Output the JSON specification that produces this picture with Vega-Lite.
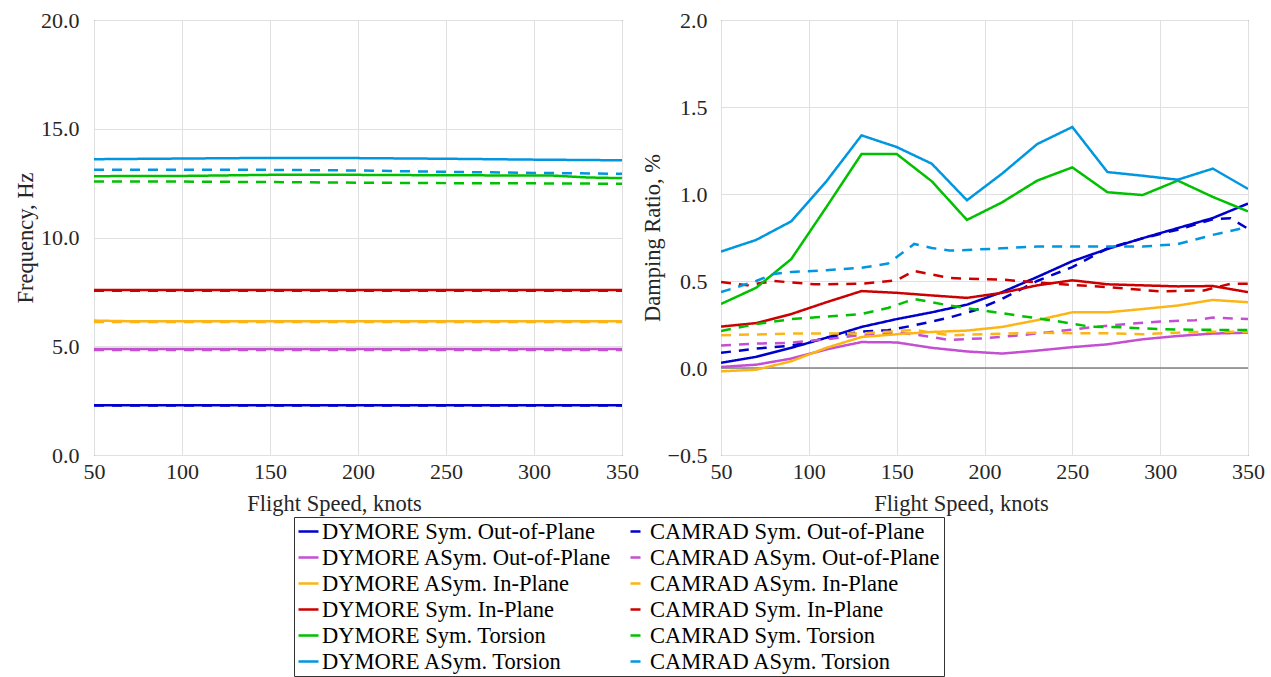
{
  "$schema": "https://vega.github.io/schema/vega-lite/v6.json",
  "padding": {"left": 14, "top": 8, "right": 5, "bottom": 5},
  "background": "white",
  "datasets": {
    "freq": [
      {"series": "DYMORE Sym. Out-of-Plane", "speed": 50, "value": 2.29},
      {"series": "DYMORE Sym. Out-of-Plane", "speed": 200, "value": 2.29},
      {"series": "DYMORE Sym. Out-of-Plane", "speed": 350, "value": 2.29},
      {"series": "CAMRAD Sym. Out-of-Plane", "speed": 50, "value": 2.28},
      {"series": "CAMRAD Sym. Out-of-Plane", "speed": 200, "value": 2.28},
      {"series": "CAMRAD Sym. Out-of-Plane", "speed": 350, "value": 2.28},
      {"series": "DYMORE ASym. Out-of-Plane", "speed": 50, "value": 4.87},
      {"series": "DYMORE ASym. Out-of-Plane", "speed": 200, "value": 4.87},
      {"series": "DYMORE ASym. Out-of-Plane", "speed": 350, "value": 4.87},
      {"series": "CAMRAD ASym. Out-of-Plane", "speed": 50, "value": 4.83},
      {"series": "CAMRAD ASym. Out-of-Plane", "speed": 200, "value": 4.83},
      {"series": "CAMRAD ASym. Out-of-Plane", "speed": 350, "value": 4.83},
      {"series": "DYMORE ASym. In-Plane", "speed": 50, "value": 6.18},
      {"series": "DYMORE ASym. In-Plane", "speed": 70, "value": 6.15},
      {"series": "DYMORE ASym. In-Plane", "speed": 200, "value": 6.15},
      {"series": "DYMORE ASym. In-Plane", "speed": 350, "value": 6.15},
      {"series": "CAMRAD ASym. In-Plane", "speed": 50, "value": 6.11},
      {"series": "CAMRAD ASym. In-Plane", "speed": 200, "value": 6.11},
      {"series": "CAMRAD ASym. In-Plane", "speed": 350, "value": 6.11},
      {"series": "DYMORE Sym. In-Plane", "speed": 50, "value": 7.59},
      {"series": "DYMORE Sym. In-Plane", "speed": 200, "value": 7.59},
      {"series": "DYMORE Sym. In-Plane", "speed": 350, "value": 7.59},
      {"series": "CAMRAD Sym. In-Plane", "speed": 50, "value": 7.55},
      {"series": "CAMRAD Sym. In-Plane", "speed": 200, "value": 7.55},
      {"series": "CAMRAD Sym. In-Plane", "speed": 350, "value": 7.55},
      {"series": "DYMORE Sym. Torsion", "speed": 50, "value": 12.82},
      {"series": "DYMORE Sym. Torsion", "speed": 100, "value": 12.83},
      {"series": "DYMORE Sym. Torsion", "speed": 150, "value": 12.88},
      {"series": "DYMORE Sym. Torsion", "speed": 200, "value": 12.88},
      {"series": "DYMORE Sym. Torsion", "speed": 250, "value": 12.86},
      {"series": "DYMORE Sym. Torsion", "speed": 310, "value": 12.85},
      {"series": "DYMORE Sym. Torsion", "speed": 330, "value": 12.76},
      {"series": "DYMORE Sym. Torsion", "speed": 350, "value": 12.73},
      {"series": "CAMRAD Sym. Torsion", "speed": 50, "value": 12.57},
      {"series": "CAMRAD Sym. Torsion", "speed": 100, "value": 12.57},
      {"series": "CAMRAD Sym. Torsion", "speed": 150, "value": 12.55},
      {"series": "CAMRAD Sym. Torsion", "speed": 200, "value": 12.52},
      {"series": "CAMRAD Sym. Torsion", "speed": 250, "value": 12.5},
      {"series": "CAMRAD Sym. Torsion", "speed": 300, "value": 12.49},
      {"series": "CAMRAD Sym. Torsion", "speed": 350, "value": 12.47},
      {"series": "DYMORE ASym. Torsion", "speed": 50, "value": 13.6},
      {"series": "DYMORE ASym. Torsion", "speed": 100, "value": 13.63},
      {"series": "DYMORE ASym. Torsion", "speed": 150, "value": 13.66},
      {"series": "DYMORE ASym. Torsion", "speed": 200, "value": 13.65},
      {"series": "DYMORE ASym. Torsion", "speed": 250, "value": 13.62},
      {"series": "DYMORE ASym. Torsion", "speed": 300, "value": 13.58},
      {"series": "DYMORE ASym. Torsion", "speed": 350, "value": 13.55},
      {"series": "CAMRAD ASym. Torsion", "speed": 50, "value": 13.12},
      {"series": "CAMRAD ASym. Torsion", "speed": 100, "value": 13.12},
      {"series": "CAMRAD ASym. Torsion", "speed": 150, "value": 13.11},
      {"series": "CAMRAD ASym. Torsion", "speed": 200, "value": 13.08},
      {"series": "CAMRAD ASym. Torsion", "speed": 250, "value": 13.02},
      {"series": "CAMRAD ASym. Torsion", "speed": 300, "value": 12.97},
      {"series": "CAMRAD ASym. Torsion", "speed": 350, "value": 12.93}
    ],
    "damp": [
      {"series": "DYMORE Sym. Out-of-Plane", "speed": 50, "value": 0.03},
      {"series": "DYMORE Sym. Out-of-Plane", "speed": 70, "value": 0.064},
      {"series": "DYMORE Sym. Out-of-Plane", "speed": 90, "value": 0.116},
      {"series": "DYMORE Sym. Out-of-Plane", "speed": 110, "value": 0.174},
      {"series": "DYMORE Sym. Out-of-Plane", "speed": 130, "value": 0.236},
      {"series": "DYMORE Sym. Out-of-Plane", "speed": 150, "value": 0.281},
      {"series": "DYMORE Sym. Out-of-Plane", "speed": 170, "value": 0.32},
      {"series": "DYMORE Sym. Out-of-Plane", "speed": 190, "value": 0.364},
      {"series": "DYMORE Sym. Out-of-Plane", "speed": 210, "value": 0.436},
      {"series": "DYMORE Sym. Out-of-Plane", "speed": 230, "value": 0.523},
      {"series": "DYMORE Sym. Out-of-Plane", "speed": 250, "value": 0.614},
      {"series": "DYMORE Sym. Out-of-Plane", "speed": 270, "value": 0.684},
      {"series": "DYMORE Sym. Out-of-Plane", "speed": 290, "value": 0.746},
      {"series": "DYMORE Sym. Out-of-Plane", "speed": 310, "value": 0.804},
      {"series": "DYMORE Sym. Out-of-Plane", "speed": 330, "value": 0.862},
      {"series": "DYMORE Sym. Out-of-Plane", "speed": 350, "value": 0.945},
      {"series": "CAMRAD Sym. Out-of-Plane", "speed": 50, "value": 0.087},
      {"series": "CAMRAD Sym. Out-of-Plane", "speed": 70, "value": 0.112},
      {"series": "CAMRAD Sym. Out-of-Plane", "speed": 90, "value": 0.128},
      {"series": "CAMRAD Sym. Out-of-Plane", "speed": 110, "value": 0.172},
      {"series": "CAMRAD Sym. Out-of-Plane", "speed": 130, "value": 0.21},
      {"series": "CAMRAD Sym. Out-of-Plane", "speed": 145, "value": 0.217},
      {"series": "CAMRAD Sym. Out-of-Plane", "speed": 160, "value": 0.245},
      {"series": "CAMRAD Sym. Out-of-Plane", "speed": 180, "value": 0.29},
      {"series": "CAMRAD Sym. Out-of-Plane", "speed": 195, "value": 0.333},
      {"series": "CAMRAD Sym. Out-of-Plane", "speed": 210, "value": 0.397},
      {"series": "CAMRAD Sym. Out-of-Plane", "speed": 230, "value": 0.5},
      {"series": "CAMRAD Sym. Out-of-Plane", "speed": 250, "value": 0.58},
      {"series": "CAMRAD Sym. Out-of-Plane", "speed": 270, "value": 0.688},
      {"series": "CAMRAD Sym. Out-of-Plane", "speed": 290, "value": 0.745},
      {"series": "CAMRAD Sym. Out-of-Plane", "speed": 310, "value": 0.795},
      {"series": "CAMRAD Sym. Out-of-Plane", "speed": 330, "value": 0.855},
      {"series": "CAMRAD Sym. Out-of-Plane", "speed": 340, "value": 0.86},
      {"series": "CAMRAD Sym. Out-of-Plane", "speed": 350, "value": 0.8},
      {"series": "DYMORE ASym. Out-of-Plane", "speed": 50, "value": 0.006},
      {"series": "DYMORE ASym. Out-of-Plane", "speed": 70, "value": 0.019},
      {"series": "DYMORE ASym. Out-of-Plane", "speed": 90, "value": 0.054},
      {"series": "DYMORE ASym. Out-of-Plane", "speed": 110, "value": 0.107},
      {"series": "DYMORE ASym. Out-of-Plane", "speed": 130, "value": 0.149},
      {"series": "DYMORE ASym. Out-of-Plane", "speed": 150, "value": 0.147},
      {"series": "DYMORE ASym. Out-of-Plane", "speed": 170, "value": 0.116},
      {"series": "DYMORE ASym. Out-of-Plane", "speed": 190, "value": 0.095},
      {"series": "DYMORE ASym. Out-of-Plane", "speed": 210, "value": 0.083},
      {"series": "DYMORE ASym. Out-of-Plane", "speed": 230, "value": 0.1},
      {"series": "DYMORE ASym. Out-of-Plane", "speed": 250, "value": 0.12},
      {"series": "DYMORE ASym. Out-of-Plane", "speed": 270, "value": 0.136},
      {"series": "DYMORE ASym. Out-of-Plane", "speed": 290, "value": 0.165},
      {"series": "DYMORE ASym. Out-of-Plane", "speed": 310, "value": 0.184},
      {"series": "DYMORE ASym. Out-of-Plane", "speed": 330, "value": 0.198},
      {"series": "DYMORE ASym. Out-of-Plane", "speed": 350, "value": 0.203},
      {"series": "CAMRAD ASym. Out-of-Plane", "speed": 50, "value": 0.13},
      {"series": "CAMRAD ASym. Out-of-Plane", "speed": 70, "value": 0.14},
      {"series": "CAMRAD ASym. Out-of-Plane", "speed": 90, "value": 0.145},
      {"series": "CAMRAD ASym. Out-of-Plane", "speed": 110, "value": 0.165},
      {"series": "CAMRAD ASym. Out-of-Plane", "speed": 130, "value": 0.19},
      {"series": "CAMRAD ASym. Out-of-Plane", "speed": 150, "value": 0.203},
      {"series": "CAMRAD ASym. Out-of-Plane", "speed": 160, "value": 0.194},
      {"series": "CAMRAD ASym. Out-of-Plane", "speed": 180, "value": 0.161},
      {"series": "CAMRAD ASym. Out-of-Plane", "speed": 200, "value": 0.171},
      {"series": "CAMRAD ASym. Out-of-Plane", "speed": 220, "value": 0.188},
      {"series": "CAMRAD ASym. Out-of-Plane", "speed": 240, "value": 0.209},
      {"series": "CAMRAD ASym. Out-of-Plane", "speed": 260, "value": 0.233},
      {"series": "CAMRAD ASym. Out-of-Plane", "speed": 280, "value": 0.252},
      {"series": "CAMRAD ASym. Out-of-Plane", "speed": 300, "value": 0.267},
      {"series": "CAMRAD ASym. Out-of-Plane", "speed": 320, "value": 0.275},
      {"series": "CAMRAD ASym. Out-of-Plane", "speed": 330, "value": 0.29},
      {"series": "CAMRAD ASym. Out-of-Plane", "speed": 350, "value": 0.281},
      {"series": "DYMORE ASym. In-Plane", "speed": 50, "value": -0.019},
      {"series": "DYMORE ASym. In-Plane", "speed": 70, "value": -0.01},
      {"series": "DYMORE ASym. In-Plane", "speed": 90, "value": 0.039},
      {"series": "DYMORE ASym. In-Plane", "speed": 110, "value": 0.116},
      {"series": "DYMORE ASym. In-Plane", "speed": 130, "value": 0.178},
      {"series": "DYMORE ASym. In-Plane", "speed": 150, "value": 0.194},
      {"series": "DYMORE ASym. In-Plane", "speed": 170, "value": 0.207},
      {"series": "DYMORE ASym. In-Plane", "speed": 190, "value": 0.215},
      {"series": "DYMORE ASym. In-Plane", "speed": 210, "value": 0.236},
      {"series": "DYMORE ASym. In-Plane", "speed": 230, "value": 0.275},
      {"series": "DYMORE ASym. In-Plane", "speed": 250, "value": 0.32},
      {"series": "DYMORE ASym. In-Plane", "speed": 270, "value": 0.32},
      {"series": "DYMORE ASym. In-Plane", "speed": 290, "value": 0.339},
      {"series": "DYMORE ASym. In-Plane", "speed": 310, "value": 0.359},
      {"series": "DYMORE ASym. In-Plane", "speed": 330, "value": 0.391},
      {"series": "DYMORE ASym. In-Plane", "speed": 350, "value": 0.378},
      {"series": "CAMRAD ASym. In-Plane", "speed": 50, "value": 0.188},
      {"series": "CAMRAD ASym. In-Plane", "speed": 90, "value": 0.198},
      {"series": "CAMRAD ASym. In-Plane", "speed": 130, "value": 0.198},
      {"series": "CAMRAD ASym. In-Plane", "speed": 160, "value": 0.219},
      {"series": "CAMRAD ASym. In-Plane", "speed": 180, "value": 0.188},
      {"series": "CAMRAD ASym. In-Plane", "speed": 200, "value": 0.194},
      {"series": "CAMRAD ASym. In-Plane", "speed": 230, "value": 0.203},
      {"series": "CAMRAD ASym. In-Plane", "speed": 250, "value": 0.2},
      {"series": "CAMRAD ASym. In-Plane", "speed": 270, "value": 0.2},
      {"series": "CAMRAD ASym. In-Plane", "speed": 290, "value": 0.194},
      {"series": "CAMRAD ASym. In-Plane", "speed": 310, "value": 0.203},
      {"series": "CAMRAD ASym. In-Plane", "speed": 330, "value": 0.209},
      {"series": "CAMRAD ASym. In-Plane", "speed": 350, "value": 0.207},
      {"series": "DYMORE Sym. In-Plane", "speed": 50, "value": 0.238},
      {"series": "DYMORE Sym. In-Plane", "speed": 70, "value": 0.258},
      {"series": "DYMORE Sym. In-Plane", "speed": 90, "value": 0.31},
      {"series": "DYMORE Sym. In-Plane", "speed": 110, "value": 0.378},
      {"series": "DYMORE Sym. In-Plane", "speed": 130, "value": 0.442},
      {"series": "DYMORE Sym. In-Plane", "speed": 150, "value": 0.432},
      {"series": "DYMORE Sym. In-Plane", "speed": 170, "value": 0.417},
      {"series": "DYMORE Sym. In-Plane", "speed": 190, "value": 0.403},
      {"series": "DYMORE Sym. In-Plane", "speed": 210, "value": 0.432},
      {"series": "DYMORE Sym. In-Plane", "speed": 230, "value": 0.475},
      {"series": "DYMORE Sym. In-Plane", "speed": 250, "value": 0.504},
      {"series": "DYMORE Sym. In-Plane", "speed": 270, "value": 0.481},
      {"series": "DYMORE Sym. In-Plane", "speed": 290, "value": 0.475},
      {"series": "DYMORE Sym. In-Plane", "speed": 310, "value": 0.469},
      {"series": "DYMORE Sym. In-Plane", "speed": 330, "value": 0.471},
      {"series": "DYMORE Sym. In-Plane", "speed": 350, "value": 0.436},
      {"series": "CAMRAD Sym. In-Plane", "speed": 50, "value": 0.494},
      {"series": "CAMRAD Sym. In-Plane", "speed": 65, "value": 0.475},
      {"series": "CAMRAD Sym. In-Plane", "speed": 80, "value": 0.5},
      {"series": "CAMRAD Sym. In-Plane", "speed": 103, "value": 0.481},
      {"series": "CAMRAD Sym. In-Plane", "speed": 130, "value": 0.484},
      {"series": "CAMRAD Sym. In-Plane", "speed": 150, "value": 0.504},
      {"series": "CAMRAD Sym. In-Plane", "speed": 160, "value": 0.558},
      {"series": "CAMRAD Sym. In-Plane", "speed": 180, "value": 0.517},
      {"series": "CAMRAD Sym. In-Plane", "speed": 210, "value": 0.508},
      {"series": "CAMRAD Sym. In-Plane", "speed": 240, "value": 0.484},
      {"series": "CAMRAD Sym. In-Plane", "speed": 270, "value": 0.465},
      {"series": "CAMRAD Sym. In-Plane", "speed": 300, "value": 0.44},
      {"series": "CAMRAD Sym. In-Plane", "speed": 325, "value": 0.446},
      {"series": "CAMRAD Sym. In-Plane", "speed": 340, "value": 0.484},
      {"series": "CAMRAD Sym. In-Plane", "speed": 350, "value": 0.484},
      {"series": "DYMORE Sym. Torsion", "speed": 50, "value": 0.368},
      {"series": "DYMORE Sym. Torsion", "speed": 70, "value": 0.461},
      {"series": "DYMORE Sym. Torsion", "speed": 90, "value": 0.626},
      {"series": "DYMORE Sym. Torsion", "speed": 110, "value": 0.925},
      {"series": "DYMORE Sym. Torsion", "speed": 130, "value": 1.23},
      {"series": "DYMORE Sym. Torsion", "speed": 150, "value": 1.23},
      {"series": "DYMORE Sym. Torsion", "speed": 170, "value": 1.073},
      {"series": "DYMORE Sym. Torsion", "speed": 190, "value": 0.851},
      {"series": "DYMORE Sym. Torsion", "speed": 210, "value": 0.952},
      {"series": "DYMORE Sym. Torsion", "speed": 230, "value": 1.077},
      {"series": "DYMORE Sym. Torsion", "speed": 250, "value": 1.153},
      {"series": "DYMORE Sym. Torsion", "speed": 270, "value": 1.01},
      {"series": "DYMORE Sym. Torsion", "speed": 290, "value": 0.994},
      {"series": "DYMORE Sym. Torsion", "speed": 310, "value": 1.077},
      {"series": "DYMORE Sym. Torsion", "speed": 330, "value": 0.983},
      {"series": "DYMORE Sym. Torsion", "speed": 350, "value": 0.9},
      {"series": "CAMRAD Sym. Torsion", "speed": 50, "value": 0.213},
      {"series": "CAMRAD Sym. Torsion", "speed": 70, "value": 0.252},
      {"series": "CAMRAD Sym. Torsion", "speed": 90, "value": 0.281},
      {"series": "CAMRAD Sym. Torsion", "speed": 110, "value": 0.295},
      {"series": "CAMRAD Sym. Torsion", "speed": 130, "value": 0.31},
      {"series": "CAMRAD Sym. Torsion", "speed": 145, "value": 0.345},
      {"series": "CAMRAD Sym. Torsion", "speed": 160, "value": 0.397},
      {"series": "CAMRAD Sym. Torsion", "speed": 180, "value": 0.359},
      {"series": "CAMRAD Sym. Torsion", "speed": 200, "value": 0.329},
      {"series": "CAMRAD Sym. Torsion", "speed": 220, "value": 0.3},
      {"series": "CAMRAD Sym. Torsion", "speed": 240, "value": 0.271},
      {"series": "CAMRAD Sym. Torsion", "speed": 260, "value": 0.238},
      {"series": "CAMRAD Sym. Torsion", "speed": 280, "value": 0.233},
      {"series": "CAMRAD Sym. Torsion", "speed": 300, "value": 0.223},
      {"series": "CAMRAD Sym. Torsion", "speed": 330, "value": 0.219},
      {"series": "CAMRAD Sym. Torsion", "speed": 350, "value": 0.219},
      {"series": "DYMORE ASym. Torsion", "speed": 50, "value": 0.669},
      {"series": "DYMORE ASym. Torsion", "speed": 70, "value": 0.736},
      {"series": "DYMORE ASym. Torsion", "speed": 90, "value": 0.843},
      {"series": "DYMORE ASym. Torsion", "speed": 110, "value": 1.073},
      {"series": "DYMORE ASym. Torsion", "speed": 130, "value": 1.337},
      {"series": "DYMORE ASym. Torsion", "speed": 150, "value": 1.27},
      {"series": "DYMORE ASym. Torsion", "speed": 170, "value": 1.174},
      {"series": "DYMORE ASym. Torsion", "speed": 190, "value": 0.964},
      {"series": "DYMORE ASym. Torsion", "speed": 210, "value": 1.117},
      {"series": "DYMORE ASym. Torsion", "speed": 230, "value": 1.287},
      {"series": "DYMORE ASym. Torsion", "speed": 250, "value": 1.385},
      {"series": "DYMORE ASym. Torsion", "speed": 270, "value": 1.126},
      {"series": "DYMORE ASym. Torsion", "speed": 290, "value": 1.105},
      {"series": "DYMORE ASym. Torsion", "speed": 310, "value": 1.082},
      {"series": "DYMORE ASym. Torsion", "speed": 330, "value": 1.146},
      {"series": "DYMORE ASym. Torsion", "speed": 350, "value": 1.029},
      {"series": "CAMRAD ASym. Torsion", "speed": 50, "value": 0.436},
      {"series": "CAMRAD ASym. Torsion", "speed": 70, "value": 0.5},
      {"series": "CAMRAD ASym. Torsion", "speed": 80, "value": 0.54},
      {"series": "CAMRAD ASym. Torsion", "speed": 90, "value": 0.552},
      {"series": "CAMRAD ASym. Torsion", "speed": 110, "value": 0.562},
      {"series": "CAMRAD ASym. Torsion", "speed": 130, "value": 0.576},
      {"series": "CAMRAD ASym. Torsion", "speed": 145, "value": 0.6},
      {"series": "CAMRAD ASym. Torsion", "speed": 160, "value": 0.713},
      {"series": "CAMRAD ASym. Torsion", "speed": 170, "value": 0.69},
      {"series": "CAMRAD ASym. Torsion", "speed": 180, "value": 0.675},
      {"series": "CAMRAD ASym. Torsion", "speed": 190, "value": 0.678},
      {"series": "CAMRAD ASym. Torsion", "speed": 210, "value": 0.688},
      {"series": "CAMRAD ASym. Torsion", "speed": 230, "value": 0.698},
      {"series": "CAMRAD ASym. Torsion", "speed": 290, "value": 0.698},
      {"series": "CAMRAD ASym. Torsion", "speed": 310, "value": 0.712},
      {"series": "CAMRAD ASym. Torsion", "speed": 330, "value": 0.765},
      {"series": "CAMRAD ASym. Torsion", "speed": 350, "value": 0.81}
    ],
    "zero": [{"z": 0}]
  },
  "hconcat": [
    {
      "width": 528,
      "height": 435,
      "data": {"name": "freq"},
      "mark": {"type": "line", "strokeWidth": 2.5, "clip": true},
      "encoding": {
        "x": {"field": "speed", "type": "quantitative", "scale": {"domain": [50, 350], "nice": false},
          "axis": {"title": "Flight Speed, knots", "values": [50, 100, 150, 200, 250, 300, 350], "labelPadding": 6, "titleX": 240, "titleAlign": "center", "titlePadding": 10}},
        "y": {"field": "value", "type": "quantitative", "scale": {"domain": [0, 20], "nice": false},
          "axis": {"title": "Frequency, Hz", "values": [0, 5, 10, 15, 20], "format": ".1f", "labelPadding": 15, "titlePadding": 3}},
        "color": {"field": "series", "type": "nominal", "title": null,
          "scale": {"domain": ["DYMORE Sym. Out-of-Plane", "DYMORE ASym. Out-of-Plane", "DYMORE ASym. In-Plane", "DYMORE Sym. In-Plane", "DYMORE Sym. Torsion", "DYMORE ASym. Torsion", "CAMRAD Sym. Out-of-Plane", "CAMRAD ASym. Out-of-Plane", "CAMRAD ASym. In-Plane", "CAMRAD Sym. In-Plane", "CAMRAD Sym. Torsion", "CAMRAD ASym. Torsion"],
            "range": ["#0000cd", "#c44fd2", "#fdb515", "#cc0000", "#00c000", "#0096e0", "#0000cd", "#c44fd2", "#fdb515", "#cc0000", "#00c000", "#0096e0"]}},
        "strokeDash": {"field": "series", "type": "nominal", "title": null,
          "scale": {"domain": ["DYMORE Sym. Out-of-Plane", "DYMORE ASym. Out-of-Plane", "DYMORE ASym. In-Plane", "DYMORE Sym. In-Plane", "DYMORE Sym. Torsion", "DYMORE ASym. Torsion", "CAMRAD Sym. Out-of-Plane", "CAMRAD ASym. Out-of-Plane", "CAMRAD ASym. In-Plane", "CAMRAD Sym. In-Plane", "CAMRAD Sym. Torsion", "CAMRAD ASym. Torsion"],
            "range": [[1, 0], [1, 0], [1, 0], [1, 0], [1, 0], [1, 0], [10, 8], [10, 8], [10, 8], [10, 8], [10, 8], [10, 8]]}}
      }
    },
    {
      "width": 527,
      "height": 435,
      "layer": [
        {
          "data": {"name": "zero"},
          "mark": {"type": "rule", "color": "#808080", "strokeWidth": 1.5},
          "encoding": {"y": {"field": "z", "type": "quantitative"}}
        },
        {
          "data": {"name": "damp"},
          "mark": {"type": "line", "strokeWidth": 2.5, "clip": true},
          "encoding": {
            "x": {"field": "speed", "type": "quantitative", "scale": {"domain": [50, 350], "nice": false},
              "axis": {"title": "Flight Speed, knots", "values": [50, 100, 150, 200, 250, 300, 350], "labelPadding": 6, "titleX": 240, "titleAlign": "center", "titlePadding": 10}},
            "y": {"field": "value", "type": "quantitative", "scale": {"domain": [-0.5, 2.0], "nice": false},
              "axis": {"title": "Damping Ratio, %", "values": [-0.5, 0, 0.5, 1, 1.5, 2], "format": ".1f", "labelPadding": 14, "titlePadding": 3}},
            "color": {"field": "series", "type": "nominal", "title": null,
              "scale": {"domain": ["DYMORE Sym. Out-of-Plane", "DYMORE ASym. Out-of-Plane", "DYMORE ASym. In-Plane", "DYMORE Sym. In-Plane", "DYMORE Sym. Torsion", "DYMORE ASym. Torsion", "CAMRAD Sym. Out-of-Plane", "CAMRAD ASym. Out-of-Plane", "CAMRAD ASym. In-Plane", "CAMRAD Sym. In-Plane", "CAMRAD Sym. Torsion", "CAMRAD ASym. Torsion"],
                "range": ["#0000cd", "#c44fd2", "#fdb515", "#cc0000", "#00c000", "#0096e0", "#0000cd", "#c44fd2", "#fdb515", "#cc0000", "#00c000", "#0096e0"]}},
            "strokeDash": {"field": "series", "type": "nominal", "title": null,
              "scale": {"domain": ["DYMORE Sym. Out-of-Plane", "DYMORE ASym. Out-of-Plane", "DYMORE ASym. In-Plane", "DYMORE Sym. In-Plane", "DYMORE Sym. Torsion", "DYMORE ASym. Torsion", "CAMRAD Sym. Out-of-Plane", "CAMRAD ASym. Out-of-Plane", "CAMRAD ASym. In-Plane", "CAMRAD Sym. In-Plane", "CAMRAD Sym. Torsion", "CAMRAD ASym. Torsion"],
                "range": [[1, 0], [1, 0], [1, 0], [1, 0], [1, 0], [1, 0], [10, 8], [10, 8], [10, 8], [10, 8], [10, 8], [10, 8]]}}
          }
        }
      ]
    }
  ],
  "spacing": 1,
  "resolve": {"scale": {"y": "independent"}},
  "config": {
    "font": "Liberation Serif",
    "view": {"stroke": "#333333", "strokeWidth": 1},
    "axis": {
      "labelFont": "Liberation Serif", "titleFont": "Liberation Serif",
      "labelFontSize": 22, "titleFontSize": 22.5, "titleFontWeight": "normal",
      "labelColor": "#262626", "titleColor": "#262626",
      "gridColor": "#e0e0e0", "gridWidth": 1, "ticks": false, "domain": false,
      "labelFlush": false, "labelOverlap": false
    },
    "legend": {
      "orient": "none", "legendX": 200, "legendY": 497,
      "columns": 2, "columnPadding": 9, "rowPadding": 3,
      "labelFont": "Liberation Serif", "labelFontSize": 22.5, "labelColor": "#000000",
      "labelLimit": 400, "labelOffset": 2,
      "symbolType": "stroke", "symbolSize": 400, "symbolStrokeWidth": 2.5, "symbolDashOffset": 14,
      "strokeColor": "#333333", "fillColor": "white", "padding": 3
    }
  }
}
